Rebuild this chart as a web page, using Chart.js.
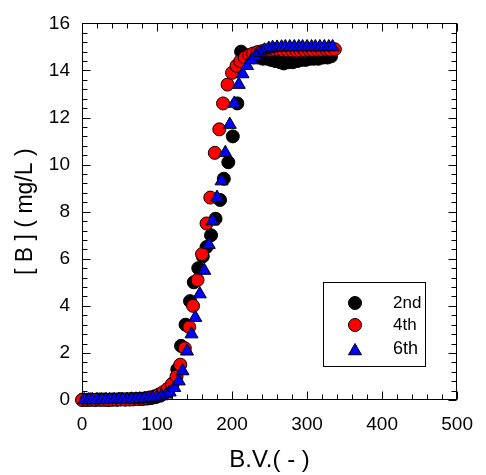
<!DOCTYPE html>
<html>
<head>
<meta charset="utf-8">
<script src="https://cdn.jsdelivr.net/npm/chart.js@4.4.1/dist/chart.umd.min.js"></script>
<style>
  html, body { margin: 0; padding: 0; background: #fff; }
  #wrap { width: 486px; height: 475px; }
</style>
</head>
<body>
<div id="wrap"><canvas id="c" width="486" height="475"></canvas></div>
<script>
// 破过曲线：三次循环（2nd / 4th / 6th）的出水硼浓度 vs 床体积
const FONT = '"Liberation Sans", Arial, Helvetica, sans-serif';

// ---- 数据----
const bv2nd = [1, 7, 12, 18, 24, 30, 35, 41, 47, 52, 58, 64, 69, 75, 81, 87, 92, 98, 104, 109,
  115, 121, 127, 132, 138, 144, 149, 155, 161, 166, 172, 178, 184, 189, 195, 201, 207, 212, 218, 224,
  229, 235, 241, 247, 252, 258, 264, 269, 275, 281, 287, 292, 298, 304, 309, 315, 321, 327, 332];
const b2nd = [0.02, 0.01, 0.02, 0.01, 0.02, 0.02, 0.01, 0.02, 0.02, 0.03, 0.02, 0.03, 0.03, 0.04, 0.05, 0.06, 0.08, 0.12, 0.18, 0.27,
  0.4, 0.7, 1.3, 2.3, 3.2, 4.2, 5.0, 5.6, 6.1, 6.5, 7.0, 7.7, 8.5, 9.4, 10.1, 11.2, 12.6, 14.8, 14.65, 14.6,
  14.55, 14.55, 14.5, 14.5, 14.45, 14.4, 14.35, 14.3, 14.35, 14.35, 14.4, 14.45, 14.45, 14.5, 14.5, 14.5, 14.55, 14.55, 14.6];

const bv4th = [0, 6, 11, 17, 23, 28, 34, 40, 46, 51, 57, 63, 68, 74, 80, 86, 91, 97, 103, 108,
  114, 120, 126, 131, 137, 143, 148, 154, 160, 166, 171, 177, 183, 188, 194, 200, 206, 211, 217, 223,
  228, 234, 240, 246, 251, 257, 263, 268, 274, 280, 286, 291, 297, 303, 308, 314, 320, 326, 331, 337];
const b4th = [0.0, 0.0, 0.01, 0.0, 0.01, 0.01, 0.0, 0.01, 0.01, 0.02, 0.02, 0.02, 0.03, 0.04, 0.05, 0.08, 0.11, 0.16, 0.24, 0.33,
  0.47, 0.68, 1.0, 1.5, 2.2, 3.1, 4.0, 5.1, 6.2, 7.5, 8.6, 10.5, 11.5, 12.6, 13.4, 13.9, 14.2, 14.4, 14.55, 14.65,
  14.72, 14.78, 14.82, 14.86, 14.88, 14.9, 14.88, 14.86, 14.85, 14.85, 14.84, 14.85, 14.85, 14.86, 14.86, 14.87, 14.87, 14.88, 14.88, 14.9];

const bv6th = [3, 9, 14, 20, 26, 32, 37, 43, 49, 54, 60, 66, 72, 77, 83, 89, 94, 100, 106, 112,
  117, 123, 129, 134, 140, 146, 151, 157, 163, 169, 174, 180, 186, 191, 197, 203, 209, 214, 220, 226,
  231, 237, 243, 249, 254, 260, 266, 271, 277, 283, 289, 294, 300, 306, 311, 317, 323, 329, 334];
const b6th = [0.0, 0.0, 0.0, 0.01, 0.0, 0.01, 0.01, 0.01, 0.02, 0.02, 0.02, 0.03, 0.03, 0.04, 0.05, 0.07, 0.09, 0.12, 0.17, 0.24,
  0.33, 0.52, 0.8, 1.23, 2.07, 2.8, 3.5, 4.5, 5.5, 6.6, 7.6, 8.6, 9.3, 10.5, 11.7, 12.6, 13.4, 13.85, 14.2, 14.45,
  14.62, 14.76, 14.86, 14.93, 14.97, 14.98, 14.99, 15.0, 15.0, 15.0, 15.0, 15.0, 15.0, 15.0, 15.0, 15.0, 15.0, 15.0, 15.0];

const xTicks = [0, 100, 200, 300, 400, 500];
const yTicks = [0, 2, 4, 6, 8, 10, 12, 14, 16];

const pts = (xs, ys) => xs.map((x, i) => ({ x, y: ys[i] }));

// 系列样式（图例与数据点共用）
const styles = [
  { label: '2nd', pointStyle: 'circle', radius: 6.5, fill: '#000000', size: 17 },
  { label: '4th', pointStyle: 'circle', radius: 6.5, fill: '#ff0000', size: 17 },
  { label: '6th', pointStyle: 'triangle', radius: 7.5, fill: '#0000ff', size: 18 },
];

// 边框 + 朝内的主/次刻度（四边都有）
const frame = {
  id: 'frame',
  beforeDatasetsDraw(chart) {
    const { ctx, chartArea: a, scales: { x, y } } = chart;
    const L = Math.round(a.left) + 0.5, R = Math.round(a.right) - 0.5;
    const T = Math.round(a.top) + 0.5, B = Math.round(a.bottom) - 0.5;
    ctx.save();
    ctx.strokeStyle = '#000';
    ctx.lineWidth = 1;
    ctx.strokeRect(L, T, R - L, B - T);
    ctx.beginPath();
    for (let i = 0; i <= 25; i++) {
      const px = Math.round(x.getPixelForValue(i * 20)) + 0.5;
      const len = i % 5 === 0 ? 8 : 5;
      ctx.moveTo(px, B); ctx.lineTo(px, B - len);
      ctx.moveTo(px, T); ctx.lineTo(px, T + len);
    }
    for (let i = 0; i <= 40; i++) {
      const py = Math.round(y.getPixelForValue(i * 0.4)) + 0.5;
      const len = i % 5 === 0 ? 8 : 5;
      ctx.moveTo(L, py); ctx.lineTo(L + len, py);
      ctx.moveTo(R, py); ctx.lineTo(R - len, py);
    }
    ctx.stroke();
    ctx.restore();
  },
};

// 图内图例框
const legendBox = {
  id: 'legendBox',
  afterDraw(chart) {
    const { ctx } = chart;
    ctx.save();
    ctx.fillStyle = '#fff';
    ctx.fillRect(323.5, 282.5, 102, 84);
    ctx.strokeStyle = '#000';
    ctx.lineWidth = 1;
    ctx.strokeRect(323.5, 282.5, 102, 84);
    const rows = [303, 325, 349];
    styles.forEach((s, i) => {
      ctx.fillStyle = s.fill;
      ctx.strokeStyle = '#000';
      ctx.lineWidth = 1;
      Chart.helpers.drawPoint(ctx, { pointStyle: s.pointStyle, radius: s.radius, rotation: 0, borderWidth: 1 }, 355, rows[i] + (s.pointStyle === 'triangle' ? 2 : 0));
      ctx.fillStyle = '#000';
      ctx.font = s.size + 'px ' + FONT;
      ctx.textBaseline = 'middle';
      ctx.textAlign = 'left';
      ctx.fillText(s.label, 393, rows[i]);
    });
    ctx.restore();
  },
};

const series = [[bv2nd, b2nd], [bv4th, b4th], [bv6th, b6th]];

new Chart(document.getElementById('c'), {
  type: 'scatter',
  data: {
    datasets: styles.map((s, i) => ({
      label: s.label,
      data: pts(series[i][0], series[i][1]),
      pointStyle: s.pointStyle,
      pointRadius: s.radius,
      backgroundColor: s.fill,
      borderColor: '#000',
      borderWidth: 1,
      clip: false,
      order: 3 - i,  // 6th 画在最上层
    })),
  },
  options: {
    responsive: false,
    animation: false,
    events: [],
    layout: { padding: { left: 0, top: 17, right: 21, bottom: 0 } },
    plugins: { legend: { display: false }, tooltip: { enabled: false } },
    scales: {
      x: {
        type: 'linear', min: 0, max: 500,
        afterBuildTicks: (s) => { s.ticks = xTicks.map((v) => ({ value: v })); },
        afterFit: (s) => { s.height = 75; },
        grid: { display: false, drawTicks: false },
        border: { display: false },
        ticks: { color: '#000', font: { family: FONT, size: 19 }, padding: 13, maxRotation: 0 },
        title: { display: true, text: 'B.V.( - )', color: '#000', font: { family: FONT, size: 24 }, padding: { top: 0, bottom: 0 } },
      },
      y: {
        type: 'linear', min: 0, max: 16,
        afterBuildTicks: (s) => { s.ticks = yTicks.map((v) => ({ value: v })); },
        afterFit: (s) => { s.width = 82; },
        grid: { display: false, drawTicks: false },
        border: { display: false },
        ticks: { color: '#000', font: { family: FONT, size: 19 }, padding: 12 },
        title: { display: true, text: '[ B ] ( mg/L )', color: '#000', font: { family: FONT, size: 23 }, padding: { top: 12, bottom: 0 } },
      },
    },
  },
  plugins: [frame, legendBox],
});
</script>
</body>
</html>
